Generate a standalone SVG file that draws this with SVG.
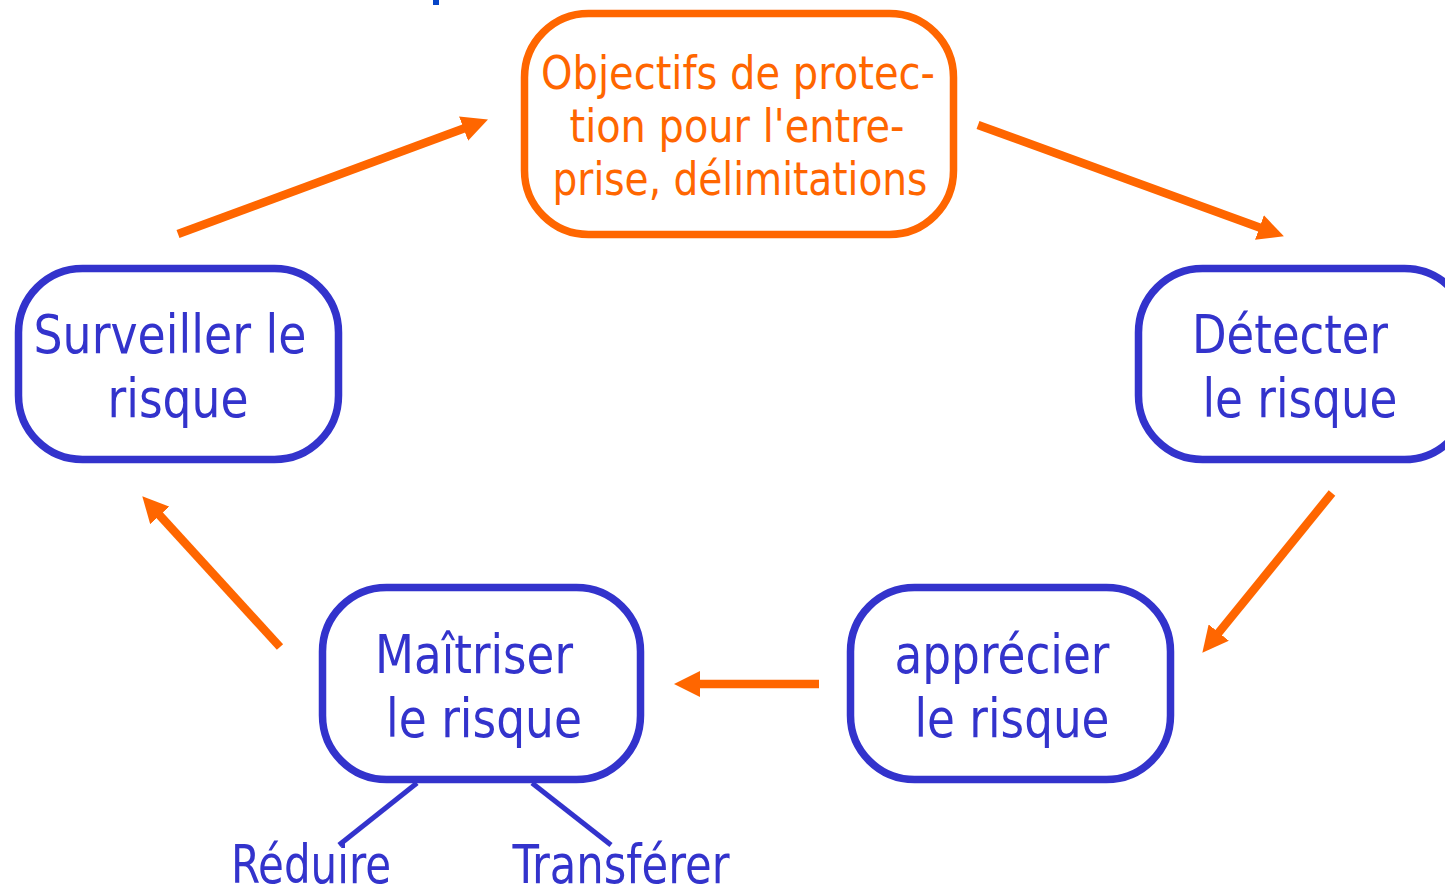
<svg xmlns="http://www.w3.org/2000/svg" width="1445" height="896" viewBox="0 0 1445 896">
<defs>
<style>
.box{fill:#ffffff;stroke:#3333cc;stroke-width:7.5}
.obox{fill:#ffffff;stroke:#ff6600;stroke-width:7.5}
.t{font-family:"DejaVu Sans Condensed","DejaVu Sans",sans-serif;font-size:53px;fill:#3333cc;text-anchor:middle}
.ot{font-family:"DejaVu Sans Condensed","DejaVu Sans",sans-serif;font-size:46px;fill:#ff6600;text-anchor:middle}
.arr{stroke:#ff6600;stroke-width:8.5;fill:none;marker-end:url(#ah)}
.br{stroke:#3333cc;stroke-width:5;fill:none}
</style>
<marker id="ah" markerUnits="userSpaceOnUse" markerWidth="26" markerHeight="26" refX="11" refY="13" orient="auto">
<path d="M0,0 L26,13 L0,26 z" fill="#ff6600"/>
</marker>
</defs>
<rect width="1445" height="896" fill="#ffffff"/>
<rect x="433" y="0" width="6" height="5" fill="#0645c8"/>
<g id="connectors">
<line class="arr" x1="178" y1="234" x2="473.9" y2="124.8"/>
<line class="arr" x1="978" y1="125" x2="1269.8" y2="231.2"/>
<line class="arr" x1="1332" y1="493" x2="1211.8" y2="641.1"/>
<line class="arr" x1="819" y1="684" x2="689" y2="684"/>
<line class="arr" x1="280" y1="647" x2="152.4" y2="507.3"/>
<line class="br" x1="417" y1="783" x2="339" y2="845"/>
<line class="br" x1="532" y1="783" x2="611" y2="845"/>
</g>
<g id="objectifs">
<rect class="obox" x="524.5" y="13.5" width="429" height="221" rx="64"/>
<text class="ot" x="738" y="89" textLength="394" lengthAdjust="spacingAndGlyphs">Objectifs de protec-</text>
<text class="ot" x="737" y="142" textLength="335" lengthAdjust="spacingAndGlyphs">tion pour l'entre-</text>
<text class="ot" x="740" y="195" textLength="375" lengthAdjust="spacingAndGlyphs">prise, délimitations</text>
</g>
<g id="detecter">
<rect class="box" x="1138.5" y="268.5" width="330" height="191" rx="64"/>
<text class="t" x="1290" y="353" textLength="196" lengthAdjust="spacingAndGlyphs">Détecter</text>
<text class="t" x="1300" y="417" textLength="195" lengthAdjust="spacingAndGlyphs">le risque</text>
</g>
<g id="apprecier">
<rect class="box" x="850.5" y="587.5" width="320" height="192" rx="64"/>
<text class="t" x="1002" y="673" textLength="215" lengthAdjust="spacingAndGlyphs">apprécier</text>
<text class="t" x="1012" y="737" textLength="195" lengthAdjust="spacingAndGlyphs">le risque</text>
</g>
<g id="maitriser">
<rect class="box" x="322.5" y="587.5" width="318" height="192" rx="64"/>
<text class="t" x="474" y="673" textLength="198" lengthAdjust="spacingAndGlyphs">Maîtriser</text>
<text class="t" x="484" y="737" textLength="196" lengthAdjust="spacingAndGlyphs">le risque</text>
</g>
<g id="surveiller">
<rect class="box" x="18.5" y="268.5" width="320" height="191" rx="64"/>
<text class="t" x="170" y="353" textLength="273" lengthAdjust="spacingAndGlyphs">Surveiller le</text>
<text class="t" x="178" y="417" textLength="141" lengthAdjust="spacingAndGlyphs">risque</text>
</g>
<g id="reduire">
<text class="t" x="311" y="883" textLength="160" lengthAdjust="spacingAndGlyphs">Réduire</text>
</g>
<g id="transferer">
<text class="t" x="621" y="883" textLength="217" lengthAdjust="spacingAndGlyphs">Transférer</text>
</g>
</svg>
